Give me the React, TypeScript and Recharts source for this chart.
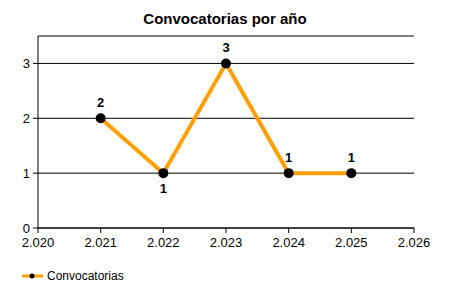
import { CartesianGrid, LabelList, Legend, Line, LineChart, XAxis, YAxis } from 'recharts';

const years = [2021, 2022, 2023, 2024, 2025];
const convocatorias = [2, 1, 3, 1, 1];
const xTicks = [2020, 2021, 2022, 2023, 2024, 2025, 2026];
const yTicks = [0, 1, 2, 3];

const data = years.map((year, i) => ({ year, convocatorias: convocatorias[i] }));

const FONT = '"Liberation Sans", Arial, sans-serif';
const ORANGE = '#FFA000';

// 2020 -> "2.020" (punto como separador de miles)
const fmtYear = (v: number) => `${Math.floor(v / 1000)}.${String(v % 1000).padStart(3, '0')}`;

function PointLabel(props: any) {
  const { x, y, value, index } = props;
  const prev = convocatorias[index - 1];
  const next = convocatorias[index + 1];
  // local minimum -> label goes below the point
  const below = prev !== undefined && next !== undefined && value < prev && value < next;
  return (
    <text
      x={x}
      y={below ? y + 20 : y - 11}
      textAnchor="middle"
      fontFamily={FONT}
      fontSize={13}
      fontWeight="bold"
      fill="#000"
    >
      {value}
    </text>
  );
}

function LegendContent() {
  return (
    <div style={{ display: 'flex', alignItems: 'center', fontFamily: FONT, fontSize: 12, height: 20 }}>
      <svg width={24} height={10} style={{ marginRight: 3 }}>
        <line x1={2} y1={5} x2={23} y2={5} stroke={ORANGE} strokeWidth={3} />
        <circle cx={12} cy={5} r={2.5} fill="#000" />
      </svg>
      <span>Convocatorias</span>
    </div>
  );
}

export default function App() {
  return (
    <div style={{ position: 'absolute', left: 0, top: 0, width: 450, height: 300, background: '#fff' }}>
      <div
        style={{
          position: 'absolute',
          top: 10,
          left: 0,
          width: 450,
          textAlign: 'center',
          fontFamily: FONT,
          fontSize: 15,
          fontWeight: 'bold',
        }}
      >
        Convocatorias por año
      </div>
      <LineChart width={450} height={300} data={data} margin={{ top: 36, right: 36, bottom: 14, left: 0 }}>
        <CartesianGrid vertical={false} stroke="#000" strokeWidth={1} />
        <XAxis
          dataKey="year"
          type="number"
          domain={[2020, 2026]}
          ticks={xTicks}
          tickFormatter={fmtYear}
          height={38}
          tickSize={5}
          tickMargin={5}
          stroke="#000"
          tick={{ fill: '#000', fontFamily: FONT, fontSize: 13 }}
          interval={0}
        />
        <YAxis
          domain={[0, 3.5]}
          ticks={yTicks}
          width={38}
          tickSize={5}
          tickMargin={3}
          stroke="#000"
          tick={{ fill: '#000', fontFamily: FONT, fontSize: 13 }}
          interval={0}
        />
        <Legend
          verticalAlign="bottom"
          align="left"
          height={20}
          wrapperStyle={{ left: 20 }}
          content={<LegendContent />}
        />
        <Line
          type="linear"
          dataKey="convocatorias"
          name="Convocatorias"
          stroke={ORANGE}
          strokeWidth={4}
          dot={{ r: 5, fill: '#000', stroke: '#000', strokeWidth: 0 }}
          isAnimationActive={false}
        >
          <LabelList dataKey="convocatorias" content={<PointLabel />} />
        </Line>
      </LineChart>
    </div>
  );
}
